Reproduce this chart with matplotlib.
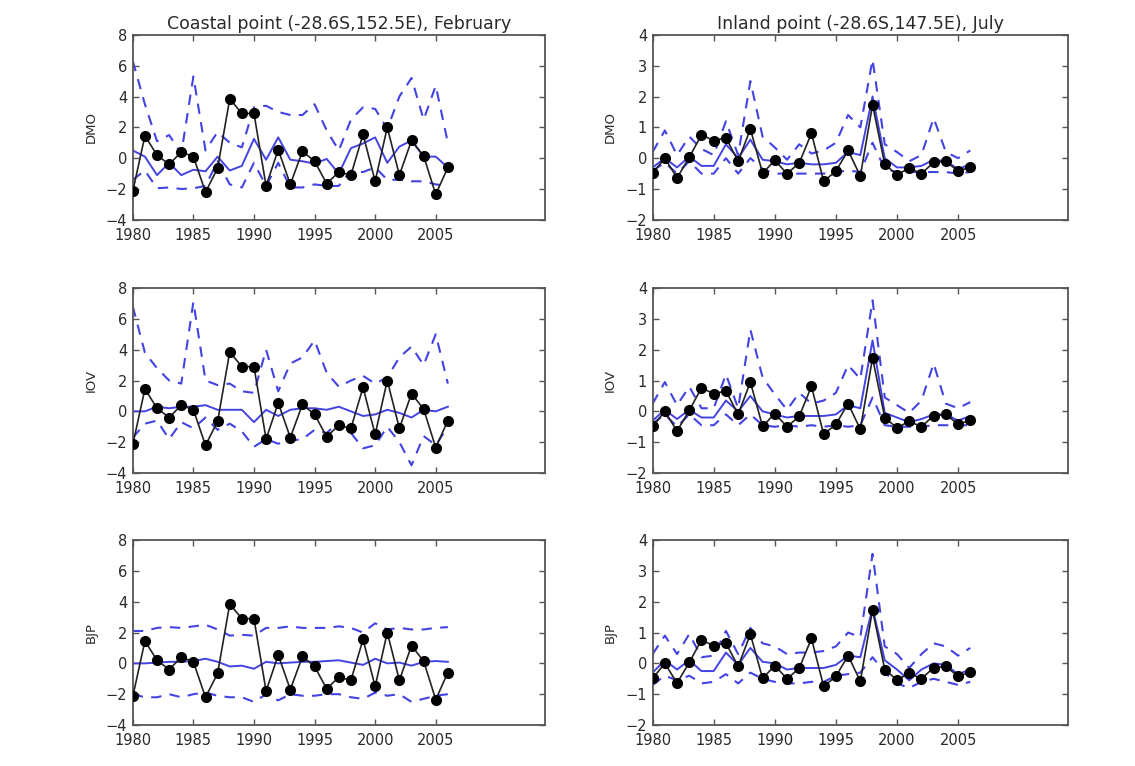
import numpy as np
import matplotlib
matplotlib.use('Agg')
import matplotlib.pyplot as plt

years = np.arange(1980, 2007)

# observed anomalies (black dots), same in every row of a column
obs_coast = [-2.15, 1.45, 0.2, -0.4, 0.4, 0.1, -2.2, -0.65, 3.85, 2.9, 2.9, -1.8, 0.55, -1.7,
             0.45, -0.2, -1.65, -0.9, -1.1, 1.55, -1.5, 2.0, -1.1, 1.15, 0.15, -2.35, -0.6]
obs_inland = [-0.49, 0.0, -0.64, 0.03, 0.76, 0.57, 0.66, -0.1, 0.95, -0.49, -0.07, -0.5, -0.16, 0.81,
              -0.75, -0.42, 0.25, -0.58, 1.73, -0.2, -0.54, -0.32, -0.5, -0.14, -0.1, -0.42, -0.29]

# coastal point, February
dmo_c_mean = [0.5, 0.1, -1.1, -0.3, -1.1, -0.75, -0.85, 0.1, -0.8, -0.5, 1.25, -0.1, 1.35, -0.1,
              -0.2, -0.35, -0.05, -1.0, 0.65, 0.95, 1.35, -0.3, 0.75, 1.15, 0.1, 0.1, -0.6]
dmo_c_hi = [6.3, 3.5, 1.1, 1.5, 0.3, 5.3, 0.5, 1.7, 1.0, 0.7, 3.3, 3.4, 3.0, 2.8,
            2.8, 3.5, 1.8, 0.5, 2.5, 3.3, 3.2, 1.9, 4.0, 5.2, 2.5, 4.7, 1.0]
dmo_c_lo = [-1.4, -0.8, -1.95, -1.9, -2.0, -1.95, -1.8, -0.2, -1.7, -1.9, -0.3, -1.8, -0.3, -1.9,
            -1.9, -1.7, -1.8, -1.8, -0.8, -0.9, -0.6, -1.4, -1.4, -1.5, -1.5, -1.7, -1.8]

iov_c_mean = [0.0, 0.0, 0.3, 0.2, 0.3, 0.3, 0.4, 0.1, 0.1, 0.1, -0.7, 0.1, -0.3, 0.1,
              0.2, 0.2, 0.1, 0.3, 0.0, -0.3, -0.2, 0.1, -0.1, -0.4, 0.1, 0.0, 0.3]
iov_c_hi = [6.8, 3.8, 2.8, 2.0, 1.8, 7.1, 2.0, 1.7, 1.8, 1.3, 1.2, 4.0, 1.3, 3.1,
            3.5, 4.6, 2.5, 1.6, 2.0, 2.3, 1.8, 2.2, 3.5, 4.2, 3.0, 5.0, 1.8]
iov_c_lo = [-1.7, -0.8, -0.6, -1.8, -0.7, -1.1, -0.4, -1.2, -0.8, -1.3, -2.3, -1.8, -2.1, -1.9,
            -1.8, -1.2, -1.4, -0.7, -1.4, -2.4, -2.2, -1.0, -2.0, -3.5, -1.6, -2.2, -1.0]

bjp_c_mean = [0.0, 0.0, 0.05, 0.1, 0.1, 0.15, 0.3, 0.1, -0.2, -0.15, -0.35, 0.1, 0.0, 0.05,
              0.1, 0.1, 0.15, 0.2, 0.05, -0.1, 0.3, 0.0, 0.05, -0.15, 0.1, 0.15, 0.1]
bjp_c_hi = [2.1, 2.1, 2.3, 2.35, 2.3, 2.4, 2.5, 2.2, 1.8, 1.85, 1.8, 2.3, 2.3, 2.4,
            2.3, 2.3, 2.3, 2.4, 2.3, 2.0, 2.6, 2.2, 2.3, 2.2, 2.2, 2.3, 2.35]
bjp_c_lo = [-2.0, -2.2, -2.2, -2.0, -2.2, -2.0, -1.9, -2.1, -2.2, -2.2, -2.5, -2.0, -2.4, -2.0,
            -2.1, -2.1, -2.0, -2.0, -2.2, -2.3, -1.9, -2.1, -2.0, -2.5, -2.3, -2.1, -2.0]

# inland point, July
dmo_i_mean = [-0.3, 0.0, -0.3, 0.05, -0.25, -0.25, 0.45, 0.0, 0.6, -0.05, -0.1, -0.2, -0.15, -0.2,
              -0.2, -0.15, 0.2, 0.1, 2.0, 0.0, -0.3, -0.3, -0.25, -0.05, -0.1, -0.35, -0.2]
dmo_i_hi = [0.2, 0.9, 0.1, 0.7, 0.3, 0.1, 1.2, 0.1, 2.5, 0.7, 0.35, -0.05, 0.45, 0.15,
            0.25, 0.5, 1.4, 1.0, 3.2, 0.45, 0.2, -0.1, 0.1, 1.3, 0.2, 0.0, 0.25]
dmo_i_lo = [-0.4, -0.15, -0.5, -0.1, -0.5, -0.5, 0.0, -0.5, 0.0, -0.35, -0.5, -0.5, -0.5, -0.5,
            -0.5, -0.45, -0.4, -0.45, 0.5, -0.35, -0.45, -0.45, -0.45, -0.45, -0.45, -0.5, -0.45]

iov_i_mean = [-0.3, 0.05, -0.25, 0.05, -0.2, -0.2, 0.35, 0.0, 0.5, 0.0, -0.1, -0.2, -0.15, -0.15,
              -0.15, -0.1, 0.2, 0.1, 2.3, -0.05, -0.2, -0.35, -0.25, -0.1, -0.1, -0.3, -0.15]
iov_i_hi = [0.25, 0.95, 0.2, 0.8, 0.1, 0.1, 1.2, 0.1, 2.65, 1.1, 0.55, 0.05, 0.6, 0.25,
            0.35, 0.6, 1.5, 1.05, 3.6, 0.45, 0.2, -0.05, 0.35, 1.55, 0.25, 0.1, 0.3]
iov_i_lo = [-0.4, -0.1, -0.5, -0.1, -0.45, -0.45, -0.1, -0.45, -0.1, -0.45, -0.5, -0.45, -0.5, -0.45,
            -0.5, -0.45, -0.5, -0.45, 0.45, -0.45, -0.5, -0.5, -0.5, -0.45, -0.45, -0.45, -0.45]

bjp_i_mean = [-0.3, 0.1, -0.2, 0.1, -0.25, -0.25, 0.35, -0.05, 0.5, 0.05, 0.0, -0.2, -0.15, -0.15,
              -0.15, -0.05, 0.25, 0.2, 1.8, 0.1, -0.2, -0.55, -0.2, 0.0, -0.05, -0.35, -0.2]
bjp_i_hi = [0.3, 0.9, 0.3, 0.95, 0.2, 0.25, 1.05, 0.3, 1.15, 0.65, 0.55, 0.3, 0.35, 0.35,
            0.4, 0.55, 1.0, 0.85, 3.55, 0.55, 0.3, -0.15, 0.3, 0.65, 0.55, 0.25, 0.5]
bjp_i_lo = [-0.7, -0.4, -0.55, -0.4, -0.65, -0.6, -0.35, -0.65, -0.3, -0.5, -0.6, -0.65, -0.65, -0.6,
            -0.6, -0.4, -0.35, -0.3, 0.2, -0.3, -0.65, -0.8, -0.6, -0.5, -0.6, -0.7, -0.6]

row_labels = ['DMO', 'IOV', 'BJP']
titles = ['Coastal point (-28.6S,152.5E), February', 'Inland point (-28.6S,147.5E), July']

BLUE = '#4343e3'
TXT = '#2a2a2a'

fig = plt.figure(figsize=(11.35, 7.66), dpi=100)
fig.set_facecolor('white')

lefts = [0.117, 0.575]
widths = [0.363, 0.366]
bottoms = [0.713, 0.3825, 0.0535]
height = 0.2415

cols = [
    (obs_coast, [(dmo_c_mean, dmo_c_hi, dmo_c_lo), (iov_c_mean, iov_c_hi, iov_c_lo),
                 (bjp_c_mean, bjp_c_hi, bjp_c_lo)], (-4, 8), np.arange(-4, 9, 2)),
    (obs_inland, [(dmo_i_mean, dmo_i_hi, dmo_i_lo), (iov_i_mean, iov_i_hi, iov_i_lo),
                  (bjp_i_mean, bjp_i_hi, bjp_i_lo)], (-2, 4), np.arange(-2, 5, 1)),
]

for c, (obs, rows, ylim, yticks) in enumerate(cols):
    for r, (mean, hi, lo) in enumerate(rows):
        ax = fig.add_axes([lefts[c], bottoms[r], widths[c], height])
        ax.plot(years, hi, '--', color=BLUE, lw=1.5, dashes=(5, 4))
        ax.plot(years, lo, '--', color=BLUE, lw=1.5, dashes=(5, 4))
        ax.plot(years, mean, '-', color=BLUE, lw=1.4)
        ax.plot(years, obs, '-', color='#222222', lw=1.2, marker='o', ms=7,
                mfc='black', mec='black', zorder=5)
        ax.set_xlim(1980, 2014)
        ax.set_ylim(*ylim)
        ax.set_xticks(np.arange(1980, 2006, 5))
        ax.set_yticks(yticks)
        ax.tick_params(direction='in', top=True, right=True, length=4, width=1,
                       color='#555555', labelcolor=TXT, labelsize=10.5)
        ax.tick_params(axis='x', pad=6)
        ax.tick_params(axis='y', pad=4)
        for s in ax.spines.values():
            s.set_color('#555555')
            s.set_linewidth(1.3)
        ax.set_ylabel(row_labels[r], fontsize=9.5, color=TXT, labelpad=6)
        if r == 0:
            ax.set_title(titles[c], fontsize=12.5, color=TXT, pad=4)

fig.savefig('out.png', dpi=100, facecolor='white')
